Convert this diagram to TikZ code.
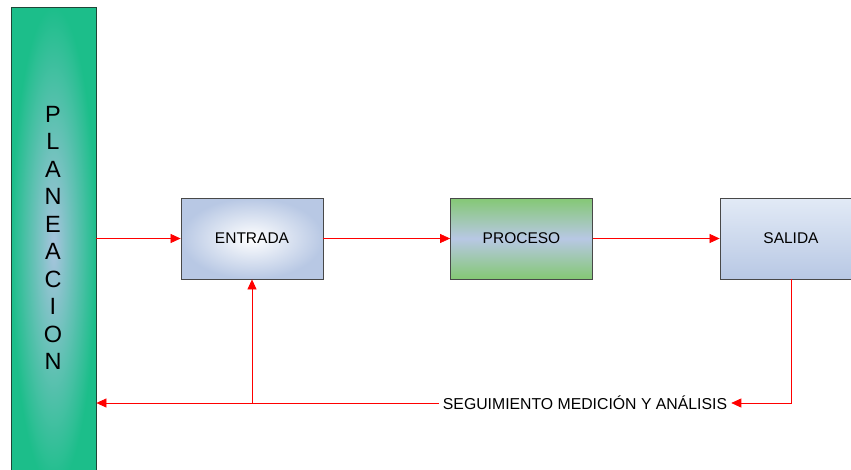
\documentclass[tikz,border=0pt]{standalone}
\usepackage{fontspec}
\setmainfont{Liberation Sans}
\usetikzlibrary{arrows.meta}
\definecolor{planverde}{RGB}{28,190,138}
\definecolor{planazul}{RGB}{168,196,222}
\definecolor{planborde}{RGB}{30,70,55}
\definecolor{cajazul}{RGB}{184,200,228}
\definecolor{salidaclaro}{RGB}{226,234,246}
\definecolor{procverde}{RGB}{132,200,116}
\definecolor{bordegris}{RGB}{72,72,72}
\tikzset{
  caja/.style={draw=bordegris, line width=0.8pt, minimum width=142pt, minimum height=81pt, inner sep=0pt, font=\fontsize{15.5}{18}\selectfont},
  flecha/.style={red, line width=0.7pt, -{Triangle[length=10pt,width=9pt]}},
}
\begin{document}
\begin{tikzpicture}[x=1pt, y=-1pt]
			\clip (0,0) rectangle (851,469);
			\fill[white] (0,0) rectangle (851,469);
			
			% barra
			\node[draw=planborde, line width=0.8pt, inner color=planazul, outer color=planverde, minimum width=85pt, minimum height=480pt, inner sep=0pt] (plan) at (53.5, 247) {};
			\foreach \l [count=\i] in {P,L,A,N,E,A,C,I,O,N}{
				\node[font=\fontsize{23.5}{26}\selectfont, inner sep=0pt] (letra\i) at (53, {114+27.5*(\i-1)}) {\l};
			}
			
			% cajas
			\node[caja, inner color=white, outer color=cajazul] (entrada) at (252, 238.5) {ENTRADA};
			\node[caja, top color=procverde, bottom color=procverde, middle color=cajazul] (proceso) at (521.5, 238.5) {PROCESO};
			\node[caja, top color=salidaclaro, bottom color=cajazul] (salida) at (791, 238.5) {SALIDA};
			
			\node[font=\fontsize{15.8}{18}\selectfont, inner sep=4pt] (seguimiento) at (585, 403) {SEGUIMIENTO MEDICIÓN Y ANÁLISIS};
			\coordinate (esquina) at (salida.south |- seguimiento);
			\coordinate (rama) at (entrada.south |- seguimiento);
			
			% flechas
			\draw[flecha] (plan.east |- entrada) -- (entrada.west);
			\draw[flecha] (entrada) -- (proceso);
			\draw[flecha] (proceso) -- (salida);
			\draw[flecha] (salida.south) -- (esquina) -- (seguimiento.east);
			\draw[flecha] (seguimiento.west) -- (seguimiento.west -| plan.east);
			\draw[flecha] (rama) -- (entrada.south);
		\end{tikzpicture}
\end{document}
